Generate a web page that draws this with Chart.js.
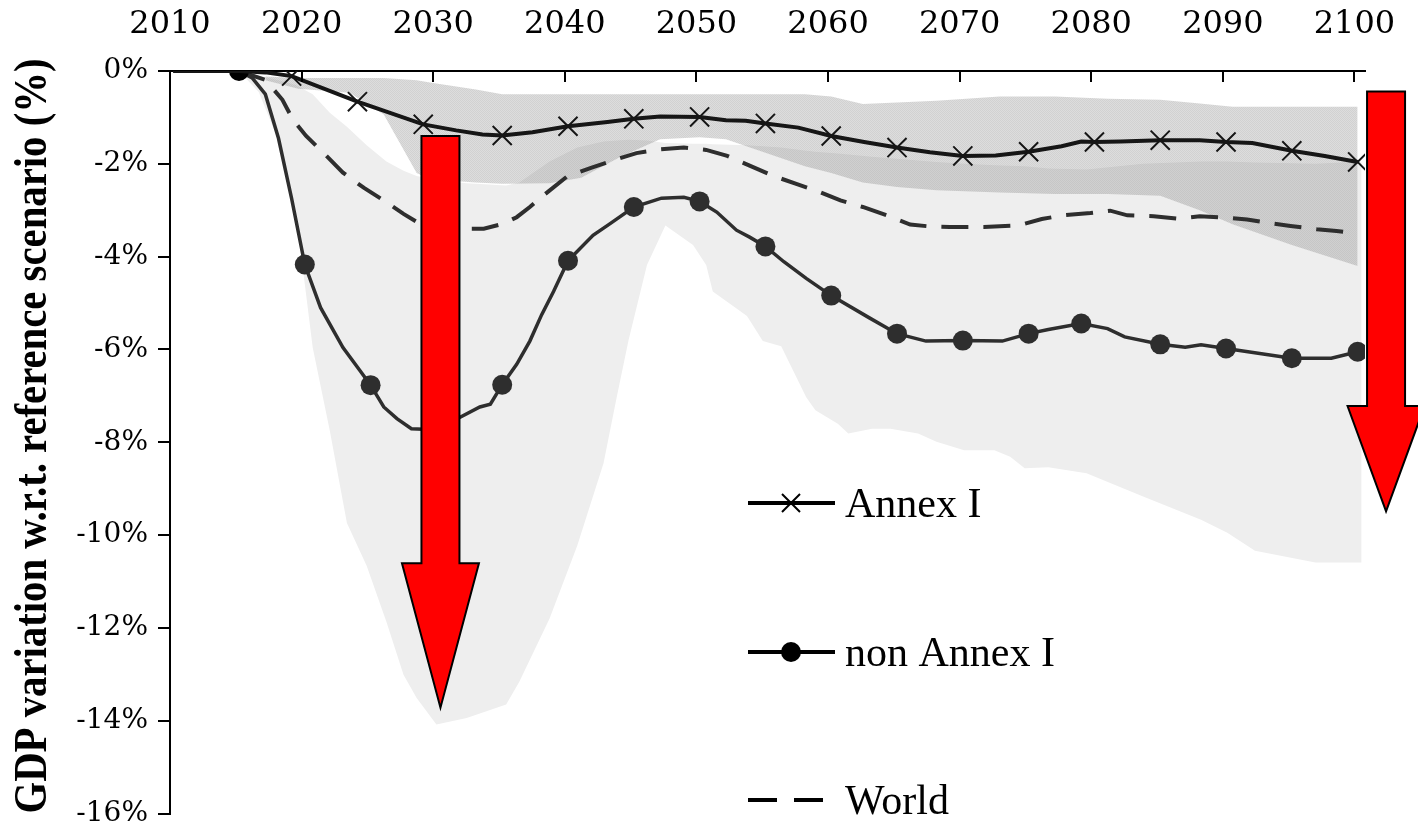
<!DOCTYPE html>
<html>
<head>
<meta charset="utf-8">
<title>GDP variation w.r.t. reference scenario</title>
<script src="https://cdn.jsdelivr.net/npm/chart.js@4.4.1/dist/chart.umd.min.js"></script>
<style>
  html, body { margin: 0; padding: 0; background: #ffffff; }
  canvas { display: block; }
</style>
</head>
<body>
<canvas id="gdpChart" width="1418" height="829"></canvas>
<script>
// ---- Axis ticks -----------------------------------------------------------
const xTickYears  = [2010, 2020, 2030, 2040, 2050, 2060, 2070, 2080, 2090, 2100];
const xTickLabels = ['2010', '2020', '2030', '2040', '2050', '2060', '2070', '2080', '2090', '2100'];
const yTickValues = [0, -2, -4, -6, -8, -10, -12, -14, -16];
const yTickLabels = ['0%', '-2%', '-4%', '-6%', '-8%', '-10%', '-12%', '-14%', '-16%'];

const seriesNames = ['Annex I', 'non Annex I', 'World'];
const yTitle = 'GDP variation w.r.t. reference scenario (%)';

// ---- Central paths (% GDP change) -----------------------------------------
const annexYears = [2010, 2015, 2017, 2019, 2024, 2029, 2031.5, 2033.5, 2035, 2037.3, 2040, 2043, 2045, 2047,
  2050, 2052, 2053.5, 2055, 2057.5, 2060, 2062.5, 2065, 2067.5, 2070, 2072.5, 2075, 2077.5, 2079, 2080,
  2082, 2085, 2088, 2090, 2092, 2095, 2097.5, 2100];
const annexValues = [0, 0, -0.03, -0.11, -0.66, -1.15, -1.28, -1.37, -1.39, -1.32, -1.19, -1.10, -1.03, -0.98,
  -0.99, -1.06, -1.07, -1.13, -1.22, -1.40, -1.53, -1.65, -1.75, -1.83, -1.82, -1.74, -1.62, -1.52, -1.53,
  -1.52, -1.49, -1.49, -1.53, -1.55, -1.72, -1.83, -1.96];
const annexMarkerYears = [2019, 2024, 2029, 2035, 2040, 2045, 2050, 2055, 2060, 2065, 2070, 2075, 2080,
  2085, 2090, 2095, 2100];

const nonAnnexYears = [2010, 2015, 2016, 2017, 2018, 2019, 2020, 2021.2, 2022.9, 2024.2, 2025, 2026, 2027,
  2028.1, 2029, 2030, 2031, 2031.8, 2033.3, 2034.1, 2035, 2036.1, 2037.1, 2038, 2038.9, 2040, 2041.9, 2043.2,
  2045, 2047.1, 2048.8, 2050, 2051.3, 2052.8, 2053.8, 2055, 2056.4, 2058.1, 2060, 2062.9, 2065, 2067.2, 2070,
  2073, 2075, 2076.5, 2079, 2081, 2082.3, 2085, 2086.9, 2088.1, 2090, 2095, 2098, 2100];
const nonAnnexValues = [0, 0, -0.15, -0.5, -1.45, -2.75, -4.17, -5.10, -5.96, -6.46, -6.77, -7.24, -7.49,
  -7.71, -7.72, -7.68, -7.58, -7.46, -7.24, -7.18, -6.76, -6.32, -5.82, -5.25, -4.75, -4.09, -3.54, -3.29,
  -2.93, -2.74, -2.72, -2.81, -3.04, -3.43, -3.58, -3.78, -4.11, -4.47, -4.84, -5.32, -5.66, -5.82, -5.81,
  -5.82, -5.66, -5.57, -5.44, -5.55, -5.73, -5.89, -5.95, -5.90, -5.98, -6.19, -6.19, -6.05];
const nonAnnexMarkerYears = [2015, 2020, 2025, 2030, 2035, 2040, 2045, 2050, 2055, 2060, 2065, 2070, 2075,
  2079, 2085, 2090, 2095, 2100];

const worldYears = [2015, 2017, 2018.3, 2019.1, 2020.1, 2021.4, 2022.9, 2024.5, 2026, 2027.5, 2028.5, 2030,
  2031.8, 2033.6, 2035.1, 2036.1, 2037.1, 2038.1, 2039.9, 2041.8, 2043.7, 2045.2, 2047, 2048.8, 2050.5,
  2052.1, 2053.8, 2055.6, 2057.4, 2058.9, 2060.7, 2062.4, 2064.2, 2066, 2067.5, 2069, 2071.6, 2074.2, 2076,
  2077.6, 2079.7, 2081.2, 2082.5, 2084.5, 2086.3, 2088, 2090.1, 2091.6, 2093.6, 2094.9, 2096.9, 2098.4, 2100];
const worldValues = [0, -0.19, -0.62, -1.05, -1.40, -1.76, -2.19, -2.52, -2.79, -3.08, -3.25, -3.36,
  -3.40, -3.40, -3.29, -3.15, -2.93, -2.69, -2.28, -2.08, -1.90, -1.77, -1.69, -1.65, -1.70,
  -1.83, -2.04, -2.26, -2.44, -2.58, -2.79, -2.93, -3.11, -3.31, -3.35, -3.36, -3.36, -3.33, -3.19,
  -3.11, -3.06, -3.01, -3.11, -3.13, -3.18, -3.13, -3.16, -3.20, -3.29, -3.34, -3.41, -3.45, -3.50];

// ---- Model ranges (upper / lower envelopes) -------------------------------
const annexRangeYears = [2017, 2019.5, 2023.4, 2026, 2028.5, 2029.5, 2033, 2035, 2038.6, 2041, 2044, 2047,
  2050, 2052, 2058, 2060, 2062.4, 2065, 2068, 2072.8, 2077, 2081, 2085, 2088, 2090.5, 2095, 2100];
const annexRangeUpper = [-0.12, -0.15, -0.15, -0.15, -0.2, -0.25, -0.4, -0.5, -0.5, -0.5, -0.5, -0.5,
  -0.5, -0.5, -0.5, -0.55, -0.71, -0.68, -0.64, -0.55, -0.55, -0.6, -0.62, -0.7, -0.77, -0.77, -0.77];
const annexRangeLower = [-0.2, -0.38, -0.47, -0.94, -2.2, -2.33, -2.4, -2.43, -2.42, -2.3, -1.85, -1.47,
  -1.43, -1.47, -2.05, -2.2, -2.4, -2.5, -2.57, -2.62, -2.65, -2.65, -2.69, -3.0, -3.3, -3.75, -4.2];

const nonAnnexRangeYears = [2015, 2016.5, 2018, 2019.3, 2020.6, 2021.9, 2023.2, 2024.7, 2026.2, 2027.5,
  2028.5, 2030, 2032.3, 2035.3, 2036.3, 2038.6, 2040.7, 2042.7, 2043.7, 2044.6, 2046, 2047.4, 2049.5,
  2050.5, 2051, 2053.6, 2054.8, 2056.2, 2058.1, 2058.8, 2060.5, 2061.3, 2063.1, 2064.5, 2066.6, 2068,
  2070.1, 2072.4, 2073.6, 2074.7, 2076.5, 2079.4, 2083.7, 2088.1, 2090.1, 2092.2, 2096.8, 2100.3];
const nonAnnexRangeUpper = [0, -0.1, -0.2, -0.3, -0.5, -0.9, -1.2, -1.6, -1.95, -2.15,
  -2.26, -2.35, -2.42, -2.47, -2.4, -1.95, -1.65, -1.52, -1.5, -1.48, -1.5, -1.55, -1.57,
  -1.57, -1.58, -1.6, -1.62, -1.65, -1.72, -1.74, -1.78, -1.8, -1.85, -1.88, -1.93, -1.96,
  -2.0, -2.03, -2.04, -2.05, -2.1, -2.12, -2.0, -1.95, -1.95, -1.97, -2.0, -1.95];
const nonAnnexRangeLower = [0, -0.45, -1.5, -3.0, -5.96, -7.75, -9.74, -10.66, -11.87, -13.01,
  -13.51, -14.08, -13.94, -13.65, -13.16, -11.8, -10.23, -8.45, -7.03, -5.8, -4.18, -3.33, -3.75,
  -4.18, -4.75, -5.28, -5.82, -5.93, -7.03, -7.31, -7.6, -7.81, -7.71, -7.71, -7.81, -7.99,
  -8.17, -8.17, -8.31, -8.56, -8.54, -8.67, -9.17, -9.67, -9.95, -10.34, -10.59, -10.59];

// ---- Red arrow annotations (x in years on the top axis, y in %) -----------
const arrowSpecs = [
  { x: 2030.55, top: -1.40, neck: -10.61, tip: -13.72, shaft: 38, head: 77 },
  { x: 2102.4,  top: -0.44, neck: -7.22,  tip: -9.49,  shaft: 38, head: 77 }
];

// ---- Helpers --------------------------------------------------------------
const toPoints = (xs, ys) => xs.map((x, i) => ({ x: x, y: ys[i] }));
const markerRadius = (xs, marks, r) => (ctx) => marks.includes(xs[ctx.dataIndex]) ? r : 0;

function stipple() {
  const c = document.createElement('canvas');
  c.width = 2; c.height = 2;
  const g = c.getContext('2d');
  g.fillStyle = 'rgba(119,119,119,0.34)'; g.fillRect(0, 0, 1, 1); g.fillRect(1, 1, 1, 1);
  g.fillStyle = 'rgba(119,119,119,0.25)'; g.fillRect(1, 0, 1, 1); g.fillRect(0, 1, 1, 1);
  return g.createPattern(c, 'repeat');
}

const SERIF_NUM = '"DejaVu Serif", "Liberation Serif", serif';
const SERIF_TXT = '"Liberation Serif", "Times New Roman", serif';
const INK = '#2e2e2e';

// ---- Plugins: inward top ticks, arrows, legend, rotated axis title --------
const decorations = {
  id: 'decorations',
  afterDatasetsDraw(chart) {
    const ctx = chart.ctx;
    const xs = chart.scales.x, ys = chart.scales.y;
    arrowSpecs.forEach(a => {
      const cx = xs.getPixelForValue(a.x);
      const yTop = ys.getPixelForValue(a.top);
      const yNeck = ys.getPixelForValue(a.neck);
      const yTip = ys.getPixelForValue(a.tip);
      const hw = a.shaft / 2, hh = a.head / 2;
      ctx.save();
      ctx.beginPath();
      ctx.moveTo(cx - hw, yTop);
      ctx.lineTo(cx + hw, yTop);
      ctx.lineTo(cx + hw, yNeck);
      ctx.lineTo(cx + hh, yNeck);
      ctx.lineTo(cx, yTip);
      ctx.lineTo(cx - hh, yNeck);
      ctx.lineTo(cx - hw, yNeck);
      ctx.closePath();
      ctx.fillStyle = '#ff0000';
      ctx.fill();
      ctx.lineWidth = 2;
      ctx.strokeStyle = '#000000';
      ctx.stroke();
      ctx.restore();
    });
  },
  afterDraw(chart) {
    const ctx = chart.ctx;
    const xs = chart.scales.x;
    const area = chart.chartArea;

    // tick marks pointing down into the plot from the top axis
    ctx.save();
    ctx.strokeStyle = '#000000';
    ctx.lineWidth = 2;
    xTickYears.slice(1).forEach(v => {
      const px = Math.round(xs.getPixelForValue(v));
      ctx.beginPath();
      ctx.moveTo(px, area.top);
      ctx.lineTo(px, area.top + 11);
      ctx.stroke();
    });
    ctx.restore();

    // legend
    const legendRows = [
      { y: 503, style: 'cross' },
      { y: 652, style: 'dot' },
      { y: 800, style: 'dash' }
    ];
    ctx.save();
    legendRows.forEach((row, i) => {
      const x0 = 748, x1 = 835;
      ctx.strokeStyle = '#000000';
      ctx.fillStyle = '#000000';
      ctx.lineWidth = 4;
      if (row.style === 'dash') {
        ctx.beginPath();
        ctx.moveTo(x0, row.y); ctx.lineTo(777, row.y);
        ctx.moveTo(794, row.y); ctx.lineTo(823, row.y);
        ctx.stroke();
      } else {
        ctx.beginPath();
        ctx.moveTo(x0, row.y); ctx.lineTo(x1, row.y);
        ctx.stroke();
        const mx = 791;
        if (row.style === 'cross') {
          ctx.lineWidth = 2;
          ctx.beginPath();
          ctx.moveTo(mx - 9, row.y - 9); ctx.lineTo(mx + 9, row.y + 9);
          ctx.moveTo(mx + 9, row.y - 9); ctx.lineTo(mx - 9, row.y + 9);
          ctx.stroke();
        } else {
          ctx.beginPath();
          ctx.arc(mx, row.y, 10, 0, Math.PI * 2);
          ctx.fill();
        }
      }
      ctx.font = '42px ' + SERIF_TXT;
      ctx.textAlign = 'left';
      ctx.textBaseline = 'alphabetic';
      ctx.fillText(seriesNames[i], 845, row.y + 14);
    });
    ctx.restore();

    // rotated y-axis title, condensed along its length
    ctx.save();
    ctx.translate(46, 436);
    ctx.rotate(-Math.PI / 2);
    ctx.font = 'bold 46px ' + SERIF_TXT;
    const w = ctx.measureText(yTitle).width;
    ctx.scale(755 / w, 1);
    ctx.textAlign = 'center';
    ctx.textBaseline = 'alphabetic';
    ctx.fillStyle = '#000000';
    ctx.fillText(yTitle, 0, 0);
    ctx.restore();
  }
};

// ---- Chart ----------------------------------------------------------------
new Chart(document.getElementById('gdpChart'), {
  type: 'line',
  data: {
    datasets: [
      {
        label: seriesNames[0],
        xAxisID: 'xd', yAxisID: 'y',
        data: toPoints(annexYears, annexValues),
        borderColor: '#161616', borderWidth: 4,
        pointStyle: 'crossRot',
        pointRadius: markerRadius(annexYears, annexMarkerYears, 13.5),
        pointBorderWidth: 2, pointBorderColor: '#161616', pointBackgroundColor: '#161616',
        fill: false, tension: 0, order: 0
      },
      {
        label: seriesNames[1],
        xAxisID: 'xd', yAxisID: 'y',
        data: toPoints(nonAnnexYears, nonAnnexValues),
        borderColor: INK, borderWidth: 3.5,
        pointStyle: 'circle',
        pointRadius: markerRadius(nonAnnexYears, nonAnnexMarkerYears, 10),
        pointBorderWidth: 0,
        pointBackgroundColor: (ctx) => nonAnnexYears[ctx.dataIndex] === 2015 ? '#000000' : INK,
        fill: false, tension: 0, order: 0
      },
      {
        label: seriesNames[2],
        xAxisID: 'xd', yAxisID: 'y',
        data: toPoints(worldYears, worldValues),
        borderColor: INK, borderWidth: 4, borderDash: [27, 15],
        pointRadius: 0, fill: false, tension: 0, order: 1
      },
      {
        label: 'Annex I range',
        xAxisID: 'xd', yAxisID: 'y',
        data: toPoints(annexRangeYears, annexRangeUpper),
        borderWidth: 0, pointRadius: 0, tension: 0,
        backgroundColor: stipple(), fill: '+1', order: 5
      },
      {
        label: 'Annex I range (lower)',
        xAxisID: 'xd', yAxisID: 'y',
        data: toPoints(annexRangeYears, annexRangeLower),
        borderWidth: 0, pointRadius: 0, tension: 0, fill: false, order: 5
      },
      {
        label: 'non Annex I range',
        xAxisID: 'xd', yAxisID: 'y',
        data: toPoints(nonAnnexRangeYears, nonAnnexRangeUpper),
        borderWidth: 0, pointRadius: 0, tension: 0,
        backgroundColor: '#eeeeee', fill: '+1', order: 9
      },
      {
        label: 'non Annex I range (lower)',
        xAxisID: 'xd', yAxisID: 'y',
        data: toPoints(nonAnnexRangeYears, nonAnnexRangeLower),
        borderWidth: 0, pointRadius: 0, tension: 0, fill: false, order: 9
      }
    ]
  },
  options: {
    responsive: false,
    animation: false,
    events: [],
    layout: { padding: { left: 0, top: 0, right: 53, bottom: 9 } },
    plugins: {
      legend: { display: false },
      tooltip: { enabled: false },
      title: { display: false }
    },
    scales: {
      x: {
        type: 'linear',
        position: 'top',
        min: 2010, max: 2100.8,
        grid: { display: false, drawTicks: false },
        border: { display: true, color: '#000000', width: 2 },
        afterBuildTicks: (s) => { s.ticks = xTickYears.map(v => ({ value: v })); },
        afterFit: (s) => { s.height = 71; s.paddingLeft = 0; s.paddingRight = 0; },
        ticks: {
          padding: 27,
          maxRotation: 0,
          autoSkip: false,
          color: '#000000',
          font: { family: SERIF_NUM, size: 32 },
          callback: (v, i) => xTickLabels[i]
        }
      },
      xd: {
        type: 'linear',
        display: false,
        min: 2009.757, max: 2100.56
      },
      y: {
        type: 'linear',
        position: 'left',
        min: -16, max: 0,
        grid: { display: true, drawOnChartArea: false, drawTicks: true, tickLength: 12, color: '#000000', lineWidth: 2 },
        border: { display: true, color: '#000000', width: 2 },
        afterBuildTicks: (s) => { s.ticks = yTickValues.map(v => ({ value: v })); },
        afterFit: (s) => { s.width = 170; s.paddingTop = 0; s.paddingBottom = 0; },
        ticks: {
          padding: 10,
          color: '#000000',
          font: { family: SERIF_NUM, size: 28 },
          callback: (v, i) => yTickLabels[i]
        }
      }
    }
  },
  plugins: [decorations]
});
</script>
</body>
</html>
